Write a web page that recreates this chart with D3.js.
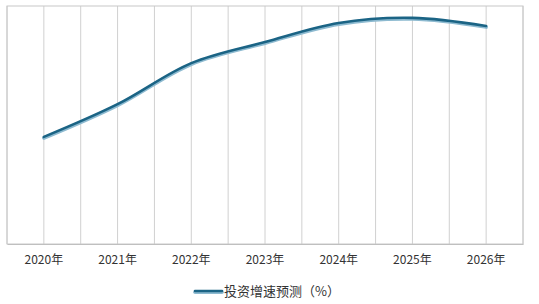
<!DOCTYPE html>
<html>
<head>
<meta charset="utf-8">
<script src="https://cdn.jsdelivr.net/npm/d3@7"></script>
<style>
  body { margin: 0; background: #fff; }
  svg { display: block; font-family: "Noto Sans CJK SC", "Noto Sans", sans-serif; }
</style>
</head>
<body>
<div id="chart"></div>
<script>
const years = ["2020年", "2021年", "2022年", "2023年", "2024年", "2025年", "2026年"]
const growth = [3.6, 4.7, 6.08, 6.79, 7.43, 7.6, 7.33]
const seriesName = "投资增速预测（%）"

const width = 539, height = 304
const plot = {left: 7, right: 523, top: 6, bottom: 244}

const svg = d3.select("#chart").append("svg")
  .attr("width", width)
  .attr("height", height)

const xScale = d3.scaleBand()
  .domain(years)
  .range([plot.left, plot.right])

const yScale = d3.scaleLinear()
  .domain([0, 8])
  .range([plot.bottom, plot.top])

// Vertical gridlines every half band (between and through categories).
const gridX = []
for (let i = 0; i <= years.length * 2; i++) {
  gridX.push(plot.left + i * xScale.bandwidth() / 2)
}
svg.append("g")
  .selectAll("line")
  .data(gridX)
  .join("line")
  .attr("x1", d => d).attr("x2", d => d)
  .attr("y1", plot.top).attr("y2", plot.bottom)
  .attr("stroke", "#d0d0d0")
  .attr("stroke-width", 1)

// Plot frame
svg.append("rect")
  .attr("x", plot.left).attr("y", plot.top)
  .attr("width", plot.right - plot.left)
  .attr("height", plot.bottom - plot.top)
  .attr("fill", "none")
  .attr("stroke", "#c8c8c8")

// X axis labels
const xAxis = d3.axisBottom(xScale).tickSize(0).tickPadding(11)
svg.append("g")
  .attr("transform", "translate(0," + plot.bottom + ")")
  .call(xAxis)
  .call(g => g.select(".domain").attr("stroke", "#bfbfbf"))
  .selectAll("text")
  .attr("font-size", "12px")
  .attr("fill", "#333")
  .attr("font-family", "'Noto Sans CJK SC', sans-serif")

const line = d3.line()
  .x((d, i) => xScale(years[i]) + xScale.bandwidth() / 2)
  .y(d => yScale(d))
  .curve(d3.curveCatmullRom.alpha(0.5))

// Light under-stroke then dark top stroke, like the original's bevelled line.
svg.append("path")
  .datum(growth)
  .attr("d", line)
  .attr("transform", "translate(0,1.2)")
  .attr("fill", "none")
  .attr("stroke", "#8dbad0")
  .attr("stroke-width", 3.5)
  .attr("stroke-linecap", "round")

svg.append("path")
  .datum(growth)
  .attr("d", line)
  .attr("fill", "none")
  .attr("stroke", "#1b6485")
  .attr("stroke-width", 2.6)
  .attr("stroke-linecap", "round")

// Legend
const legend = svg.append("g").attr("transform", "translate(195,291)")
legend.append("line")
  .attr("x1", 0).attr("x2", 27)
  .attr("y1", 1.2).attr("y2", 1.2)
  .attr("stroke", "#8dbad0").attr("stroke-width", 3.5).attr("stroke-linecap", "round")
legend.append("line")
  .attr("x1", 0).attr("x2", 27)
  .attr("y1", 0).attr("y2", 0)
  .attr("stroke", "#1b6485").attr("stroke-width", 2.6).attr("stroke-linecap", "round")
legend.append("text")
  .attr("x", 29).attr("y", 0)
  .attr("dy", "0.35em")
  .attr("font-size", "13px")
  .attr("fill", "#333")
  .text(seriesName)
</script>
</body>
</html>
